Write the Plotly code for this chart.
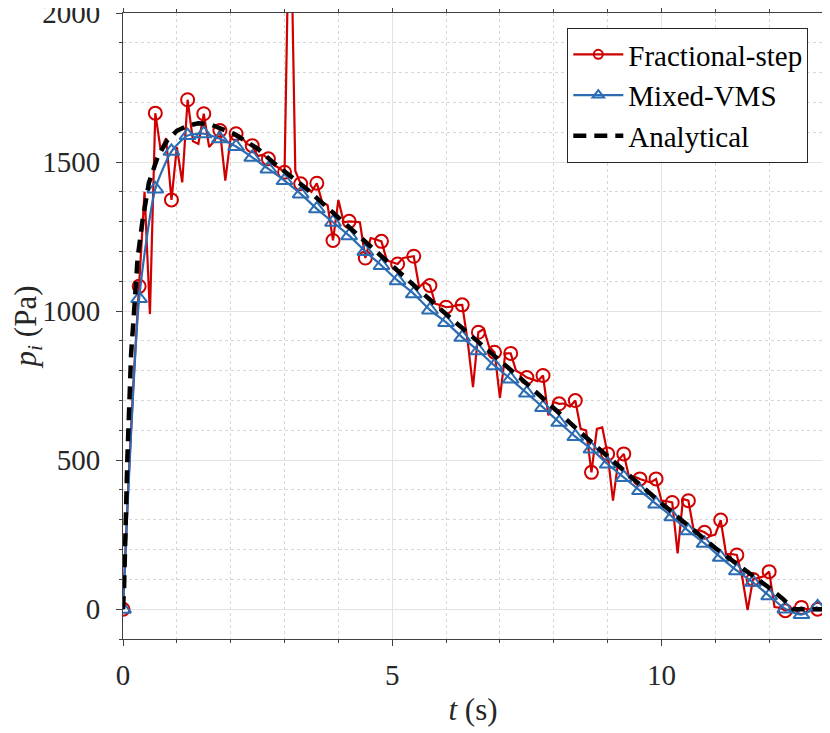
import plotly.graph_objects as go

# Fractional-step: one sample every 0.1 s, markers every 0.3 s
t_fs = [round(0.1 * k, 1) for k in range(130)]
p_fs = [
    0, 420, 780, 1083, 1400, 990, 1664, 1540, 1580, 1373,
    1550, 1432, 1709, 1570, 1561, 1662, 1550, 1572, 1606, 1438,
    1583, 1595, 1585, 1560, 1555, 1520, 1525, 1511, 1490, 1480,
    1466, 2500, 1470, 1427, 1415, 1400, 1429, 1365, 1355, 1237,
    1373, 1298, 1301, 1300, 1298, 1178, 1245, 1240, 1234, 1170,
    1165, 1158, 1178, 1180, 1184, 1080, 1097, 1086, 1024, 1020,
    1013, 1015, 1020, 1021, 900, 745, 929, 940, 880, 862,
    709, 858, 858, 800, 790, 777, 770, 765, 784, 650,
    695, 689, 690, 680, 700, 605, 600, 459, 605, 610,
    521, 364, 500, 521, 442, 445, 437, 430, 425, 437,
    364, 362, 358, 187, 370, 364, 263, 265, 258, 245,
    250, 299, 185, 185, 182, 107, -3, 100, 105, 110,
    126, 7, 5, -5, 0, 0, 6, 0, 0, 0,
]

# Mixed-VMS: one sample every 0.3 s
t_vms = [round(0.3 * k, 1) for k in range(44)]
p_vms = [
    0, 1042, 1410, 1536, 1589, 1595, 1578, 1552, 1516, 1477,
    1438, 1393, 1343, 1298, 1253, 1200, 1153, 1102, 1058, 1004,
    962, 912, 867, 817, 772, 725, 677, 627, 579, 537,
    487, 442, 398, 353, 310, 263, 221, 174, 129, 90,
    45, 1, -18, 8,
]

# Analytical solution
t_an = [0, 0.02, 0.08, 0.15, 0.22, 0.27, 0.36, 0.48, 0.65, 0.82,
        1.0, 1.2, 1.4, 1.6, 2.06, 2.5, 2.82, 3.38, 4.06, 5.15,
        6.0, 7.5, 8.67, 10.0, 11.0, 12.0, 12.26, 12.45, 13.0]
p_an = [0, 75, 500, 855, 1035, 1175, 1300, 1430, 1520, 1572,
        1605, 1622, 1630, 1628, 1595, 1545, 1494, 1415, 1304, 1125,
        990, 756, 565, 355, 205, 72, 34, 0, 0]

RED = "#d00000"
BLUE = "#2b6cb3"
FONT = "Liberation Serif"

fig = go.Figure()

# Fractional-step
fig.add_trace(go.Scatter(x=t_fs, y=p_fs, mode="lines", showlegend=False,
                         line=dict(color=RED, width=2.2)))
fig.add_trace(go.Scatter(x=t_fs[::3], y=p_fs[::3], mode="markers", showlegend=False,
                         marker=dict(symbol="circle-open", size=13, color=RED,
                                     line=dict(width=2, color=RED))))
fig.add_trace(go.Scatter(x=[None], y=[None], mode="lines+markers", name="Fractional-step",
                         line=dict(color=RED, width=2.2),
                         marker=dict(symbol="circle-open", size=9, color=RED,
                                     line=dict(width=2, color=RED))))

# Mixed-VMS
fig.add_trace(go.Scatter(x=t_vms, y=p_vms, mode="lines+markers", showlegend=False,
                         line=dict(color=BLUE, width=2.2, shape="spline", smoothing=0.6),
                         marker=dict(symbol="triangle-up-open", size=14, color=BLUE,
                                     line=dict(width=2, color=BLUE))))
fig.add_trace(go.Scatter(x=[None], y=[None], mode="lines+markers", name="Mixed-VMS",
                         line=dict(color=BLUE, width=2.2),
                         marker=dict(symbol="triangle-up-open", size=10, color=BLUE,
                                     line=dict(width=2, color=BLUE))))

# Analytical
fig.add_trace(go.Scatter(x=t_an, y=p_an, mode="lines", name="Analytical",
                         line=dict(color="black", width=4.5, dash="13px,8px")))

axis_common = dict(
    showline=True, linecolor="#404040", linewidth=1, mirror="allticks",
    ticks="outside", ticklen=6, tickcolor="#404040",
    showgrid=True, gridcolor="#e3e3e3", gridwidth=1,
    zeroline=False, automargin=False, ticklabeloverflow="allow",
    tickfont=dict(family=FONT, size=29, color="#262626"),
)

fig.update_xaxes(
    range=[0, 13], tickvals=[0, 5, 10],
    minor=dict(dtick=1, ticks="outside", ticklen=3, tickcolor="#404040",
               showgrid=True, gridcolor="#d6d6d6", griddash="dot"),
    title=dict(text="<i>t</i> (s)", font=dict(family=FONT, size=31, color="#262626"),
               standoff=8),
    ticklabelstandoff=4,
    **axis_common,
)
fig.update_yaxes(
    range=[-100, 2000], tickvals=[0, 500, 1000, 1500, 2000],
    minor=dict(dtick=100, ticks="outside", ticklen=3, tickcolor="#404040",
               showgrid=True, gridcolor="#d6d6d6", griddash="dot"),
    title=dict(text="<i>p<sub>i</sub></i> (Pa)", font=dict(family=FONT, size=31, color="#262626"),
               standoff=22),
    ticklabelstandoff=10,
    **axis_common,
)

fig.update_layout(
    width=830, height=733,
    margin=dict(l=115, r=15, t=5, b=102),
    paper_bgcolor="white", plot_bgcolor="white",
    font=dict(family=FONT, color="#262626"),
    legend=dict(x=0.979, y=0.976, xanchor="right", yanchor="top",
                bgcolor="white", bordercolor="#262626", borderwidth=1,
                font=dict(family=FONT, size=29, color="black"),
                itemwidth=50, tracegroupgap=0),
)

fig.write_html("out.html")
